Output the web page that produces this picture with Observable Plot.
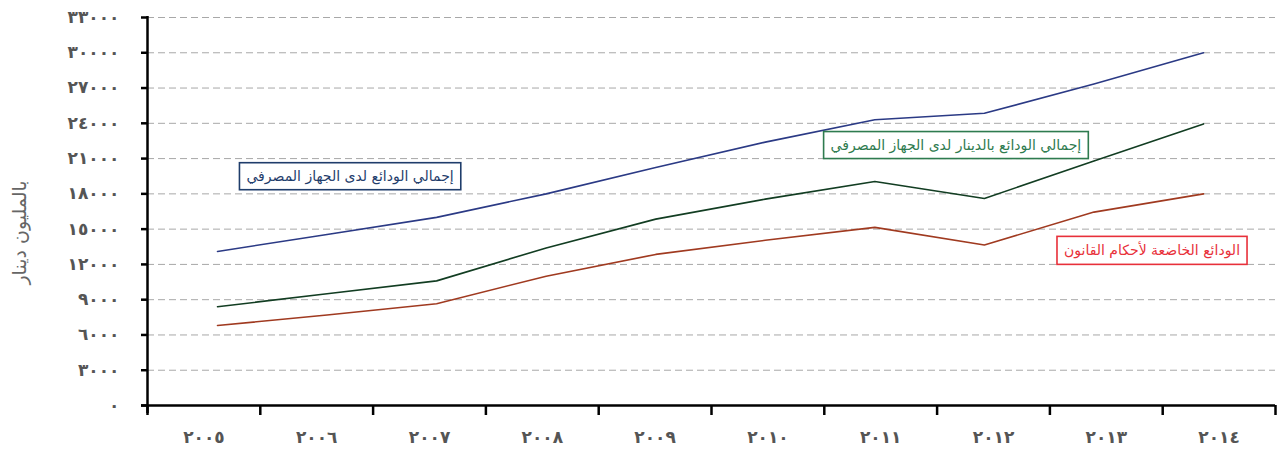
<!DOCTYPE html>
<html><head><meta charset="utf-8">
<script src="https://cdn.jsdelivr.net/npm/d3@7"></script>
<script src="https://cdn.jsdelivr.net/npm/@observablehq/plot@0.6"></script>
<style>
body{margin:0;background:#fff;}
#chart{position:relative;width:1285px;height:450px;}
#chart svg{position:absolute;left:0;top:0;background:transparent;}
g[aria-label="y-axis tick label"] text{letter-spacing:3.5px;}
g[aria-label="x-axis tick label"] text{letter-spacing:1px;}
</style></head><body><div id="chart"></div>
<script>
// ---- data ----
const years = [2005, 2006, 2007, 2008, 2009, 2010, 2011, 2012, 2013, 2014];
const totalDeposits = [13100, 14550, 16000, 18000, 20250, 22400, 24300, 24850, 27350, 30000];
const dinarDeposits = [8400, 9500, 10600, 13400, 15850, 17550, 19050, 17600, 20800, 23950];
const lawDeposits   = [6800, 7700, 8650, 11000, 12850, 14050, 15150, 13650, 16450, 18000];
const seriesNames = [
  "إجمالي الودائع لدى الجهاز المصرفي",
  "إجمالي الودائع بالدينار لدى الجهاز المصرفي",
  "الودائع الخاضعة لأحكام القانون"
];
const yTicks = [0, 3000, 6000, 9000, 12000, 15000, 18000, 21000, 24000, 27000, 30000, 33000];
const yLabel = "بالمليون دينار";
// annotation anchors (data coordinates)
const labelYears  = [2006.21, 2011.74, 2013.53];
const labelValues = [19500, 22150, 13150];

// ---- styles ----
const lineColors = ["#2b3a85", "#123d22", "#a03a20"];
const labelColors = ["#1f3d6b", "#2e7b4f", "#e8303a"];
const arab = v => String(v).replace(/\d/g, d => "٠١٢٣٤٥٦٧٨٩"[+d]);
const FONT = "DejaVu Sans, sans-serif";

const seriesValues = [totalDeposits, dinarDeposits, lawDeposits];
const rows = seriesNames.flatMap((s, i) => years.map((yr, j) => ({series: s, year: yr, value: seriesValues[i][j]})));
const labels = seriesNames.map((s, i) => ({text: s, year: labelYears[i], value: labelValues[i], color: labelColors[i]}));

const W = 1285, H = 450;
const boundaries = years.map(y => y - 0.5).concat([years[years.length - 1] + 0.5]);

const base = Plot.plot({
  width: W, height: H,
  marginTop: 17, marginBottom: 45, marginLeft: 147, marginRight: 10,
  style: {fontFamily: FONT, background: "transparent"},
  x: {type: "linear", domain: [boundaries[0], boundaries[boundaries.length - 1]], axis: null},
  y: {domain: [0, 33000], axis: null},
  marks: [
    Plot.gridY(yTicks.slice(1), {stroke: "#a8a8a8", strokeOpacity: 1, strokeWidth: 1, strokeDasharray: "7,4"}),
    Plot.axisY(yTicks, {tickSize: 6, tickPadding: 22, tickFormat: arab, fontSize: 17, fontWeight: "bold", fill: "#555", stroke: "#000", strokeWidth: 2.5}),
    Plot.axisX(boundaries, {tickSize: 10, tickFormat: () => "", stroke: "#000", strokeWidth: 2.5}),
    Plot.axisX(years, {tickSize: 0, tickPadding: 25, tickFormat: arab, fontSize: 17, fontWeight: "bold", fill: "#555"}),
    Plot.ruleX([boundaries[0]], {stroke: "#000", strokeWidth: 2.5, insetBottom: -8, insetTop: -1}),
    Plot.ruleY([0], {stroke: "#000", strokeWidth: 2.5, insetLeft: -6}),
    Plot.text([yLabel], {frameAnchor: "left", textAnchor: "middle", rotate: -90, dx: -128, dy: 21, fontSize: 19, fill: "#666"})
  ]
});

const over = Plot.plot({
  width: W, height: H,
  marginTop: 17, marginBottom: 45, marginLeft: 217, marginRight: 82,
  style: {fontFamily: FONT, background: "transparent"},
  x: {type: "linear", domain: [years[0], years[years.length - 1]], axis: null},
  y: {domain: [0, 33000], axis: null},
  color: {domain: seriesNames, range: lineColors},
  marks: [
    Plot.line(rows, {x: "year", y: "value", stroke: "series", strokeWidth: 1.6}),
    Plot.text(labels, {x: "year", y: "value", text: "text", fill: "color", fontSize: 14})
  ]
});

const root = document.getElementById("chart");
root.appendChild(base);
root.appendChild(over);

// boxes around annotation labels, sized from the rendered text
const NS = "http://www.w3.org/2000/svg";
over.querySelectorAll('g[aria-label="text"] text').forEach((t, i) => {
  const b = t.getBBox();
  const r = document.createElementNS(NS, "rect");
  const px = 7, py = 5;
  r.setAttribute("x", b.x - px);
  r.setAttribute("y", b.y - py);
  r.setAttribute("width", b.width + 2 * px);
  r.setAttribute("height", b.height + 2 * py);
  r.setAttribute("fill", "#fff");
  r.setAttribute("stroke", labels[i].color);
  r.setAttribute("stroke-width", 1.6);
  if (t.getAttribute("transform")) r.setAttribute("transform", t.getAttribute("transform"));
  t.parentNode.insertBefore(r, t);
});
</script></body></html>
